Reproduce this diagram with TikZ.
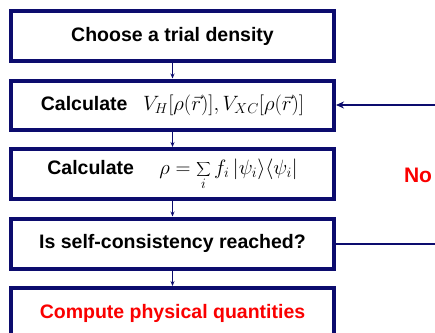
\documentclass[tikz,border=0pt]{standalone}
\usepackage{fontspec}
\setmainfont{Liberation Sans}
\definecolor{FlowNavy}{RGB}{12,12,110}
\definecolor{NoRed}{RGB}{250,0,0}
\usetikzlibrary{arrows.meta, positioning}

\begin{document}
\begin{tikzpicture}[x=1pt, y=-1pt, node distance=15.5pt,
    stepbox/.style={draw=FlowNavy, line width=4pt, minimum width=323pt,
                    minimum height=50pt, inner sep=0pt, fill=white,
                    font=\fontsize{19.5}{24}\selectfont\bfseries},
    flow/.style={-{Stealth[length=5pt, width=4pt]}, FlowNavy, line width=1pt},
    loopback/.style={-{Stealth[length=8pt, width=7pt]}, FlowNavy, line width=2pt}]
  \clip (0,0) rectangle (435,332);
  \fill[white] (0,0) rectangle (435,332);
  \node[stepbox] (trial) at (172.5,36) {Choose a trial density};
  \node[stepbox, minimum height=49pt, below=of trial] (pot)
        {Calculate\hspace{0.8em}\fontsize{22}{24}\selectfont$V_H[\rho(\vec{r})],V_{XC}[\rho(\vec{r})]$};
  \node[stepbox, below=of pot] (dens)
        {Calculate\hspace{1.3em}\fontsize{21}{24}\selectfont$\displaystyle\rho=\sum_i f_i\,|\psi_i\rangle\langle\psi_i|$\hspace{1.6em}};
  \node[stepbox, below=of dens] (check) {Is self-consistency reached?};
  \node[stepbox, below=of check, text=NoRed] (phys) {\raisebox{3pt}{Compute physical quantities}};
  \foreach \a/\b in {trial/pot, pot/dens, dens/check, check/phys}
    \draw[flow] (\a.south) -- (\b.north);
  % loop back to the potentials when not converged
  \draw[loopback] (check.east) -- ++(130pt,0) |- (pot.east);
  \node[text=NoRed, font=\fontsize{21}{24}\selectfont\bfseries] (no) at (418,175) {No};
\end{tikzpicture}
\end{document}
